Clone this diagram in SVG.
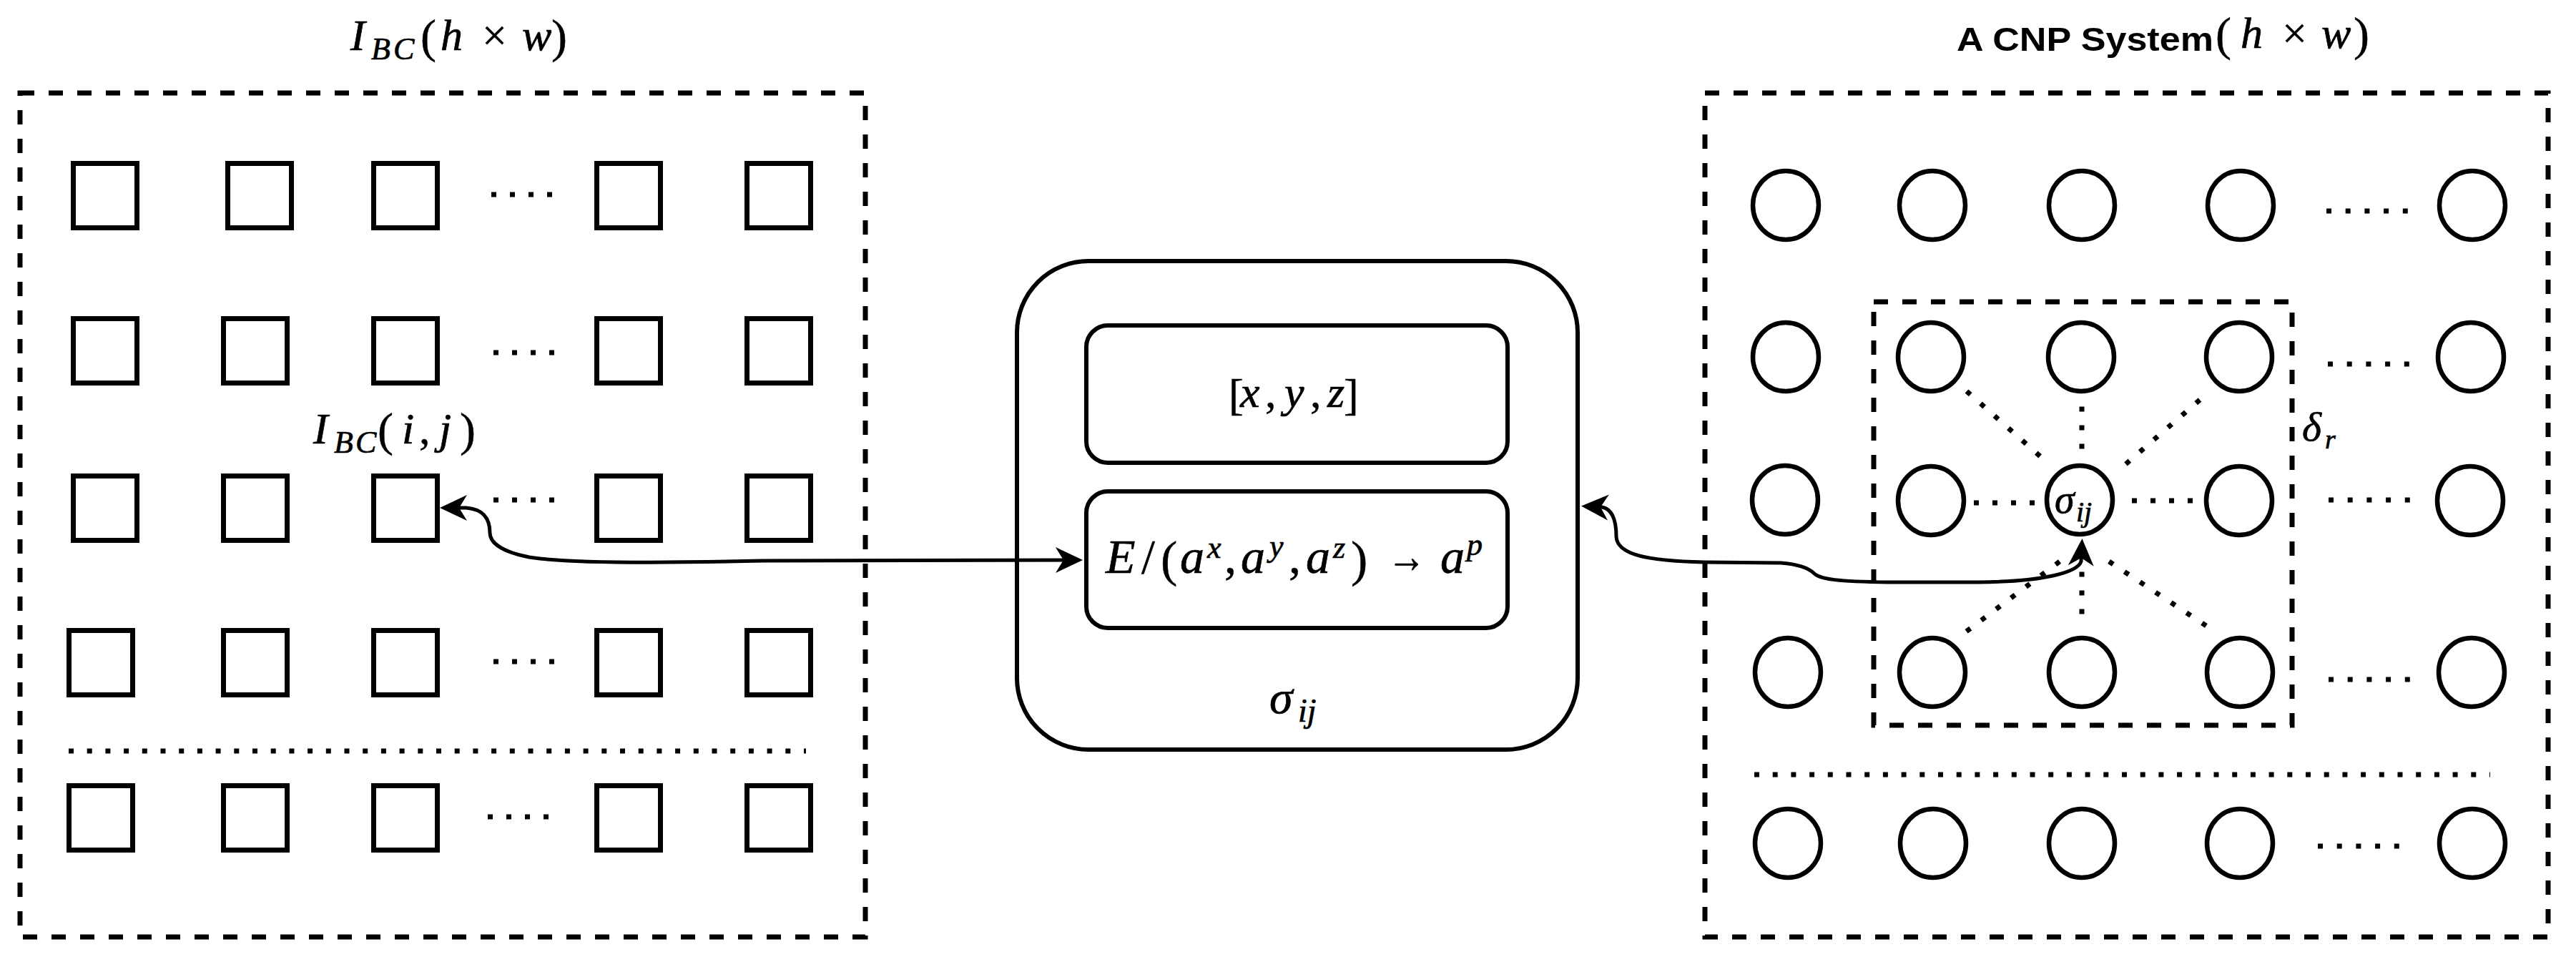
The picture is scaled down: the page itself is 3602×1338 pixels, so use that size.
<svg xmlns="http://www.w3.org/2000/svg" width="3602" height="1338" viewBox="0 0 3602 1338">
<defs>
<style>
.dbox{fill:none;stroke:#000;stroke-width:7;stroke-dasharray:20 20}
.sq{fill:#fff;stroke:#000;stroke-width:7}
.ci{fill:#fff;stroke:#000;stroke-width:6.5}
.rb{fill:#fff;stroke:#000;stroke-width:6}
.dot{stroke:#000;stroke-width:7;stroke-dasharray:7 19;fill:none}
.dotl{stroke:#000;stroke-width:7;stroke-dasharray:7 18.7;fill:none}
.dot5{stroke:#000;stroke-width:7;stroke-dasharray:7 19.7;fill:none}
.con{fill:none;stroke:#000;stroke-width:5}
.mi{font-family:"Liberation Serif","Times New Roman",serif;font-style:italic;fill:#000;stroke:#000;stroke-width:0.7}
.mr{font-family:"Liberation Serif","Times New Roman",serif;font-style:normal;fill:#000;stroke:#000;stroke-width:0.5}
.bs{font-family:"Liberation Sans",Arial,sans-serif;font-weight:bold;fill:#000}
</style>
<marker id="arr" viewBox="0 0 40 40" refX="28" refY="20" markerWidth="40" markerHeight="40" markerUnits="userSpaceOnUse" orient="auto-start-reverse">
<path d="M38,20 L0,2 L11,20 L0,38 Z" fill="#000"/>
</marker>
</defs>
<rect width="3602" height="1338" fill="#fff"/>

<!-- Left panel -->
<g id="ibc-panel">
<rect class="dbox" x="28" y="130" width="1182" height="1180"/>
<text font-size="62" y="70"><tspan class="mi" x="490">I</tspan><tspan class="mi" x="519" y="83" font-size="44">B</tspan><tspan class="mi" x="550" y="83" font-size="44">C</tspan><tspan class="mr" x="588" y="73" font-size="66">(</tspan><tspan class="mi" x="616" y="70">h</tspan><tspan class="mr" x="674" y="70">×</tspan><tspan class="mi" x="730" y="70">w</tspan><tspan class="mr" x="771" y="73" font-size="66">)</tspan></text>
</g>

<g id="ibc-ij-label">
<text font-size="62" y="620"><tspan class="mi" x="438">I</tspan><tspan class="mi" x="467" y="633" font-size="44">B</tspan><tspan class="mi" x="497" y="633" font-size="44">C</tspan><tspan class="mr" x="528" y="623" font-size="66">(</tspan><tspan class="mi" x="562" y="620">i</tspan><tspan class="mr" x="586" y="620">,</tspan><tspan class="mi" x="614" y="620">j</tspan><tspan class="mr" x="643" y="623" font-size="66">)</tspan></text>
</g>

<g id="sq-r1c1"><rect class="sq" x="102.5" y="228.5" width="89" height="90"/></g>
<g id="sq-r1c2"><rect class="sq" x="318.5" y="228.5" width="89" height="90"/></g>
<g id="sq-r1c3"><rect class="sq" x="522.5" y="228.5" width="89" height="90"/></g>
<g id="sq-r1c4"><rect class="sq" x="834.5" y="228.5" width="89" height="90"/></g>
<g id="sq-r1c5"><rect class="sq" x="1044.5" y="228.5" width="89" height="90"/></g>

<g id="sq-r2c1"><rect class="sq" x="102.5" y="445.5" width="89" height="90"/></g>
<g id="sq-r2c2"><rect class="sq" x="312.5" y="445.5" width="89" height="90"/></g>
<g id="sq-r2c3"><rect class="sq" x="522.5" y="445.5" width="89" height="90"/></g>
<g id="sq-r2c4"><rect class="sq" x="834.5" y="445.5" width="89" height="90"/></g>
<g id="sq-r2c5"><rect class="sq" x="1044.5" y="445.5" width="89" height="90"/></g>

<g id="sq-r3c1"><rect class="sq" x="102.5" y="665.5" width="89" height="90"/></g>
<g id="sq-r3c2"><rect class="sq" x="312.5" y="665.5" width="89" height="90"/></g>
<g id="sq-r3c3"><rect class="sq" x="522.5" y="665.5" width="89" height="90"/></g>
<g id="sq-r3c4"><rect class="sq" x="834.5" y="665.5" width="89" height="90"/></g>
<g id="sq-r3c5"><rect class="sq" x="1044.5" y="665.5" width="89" height="90"/></g>

<g id="sq-r4c1"><rect class="sq" x="96.5" y="881.5" width="89" height="90"/></g>
<g id="sq-r4c2"><rect class="sq" x="312.5" y="881.5" width="89" height="90"/></g>
<g id="sq-r4c3"><rect class="sq" x="522.5" y="881.5" width="89" height="90"/></g>
<g id="sq-r4c4"><rect class="sq" x="834.5" y="881.5" width="89" height="90"/></g>
<g id="sq-r4c5"><rect class="sq" x="1044.5" y="881.5" width="89" height="90"/></g>

<g id="sq-r5c1"><rect class="sq" x="96.5" y="1098.5" width="89" height="90"/></g>
<g id="sq-r5c2"><rect class="sq" x="312.5" y="1098.5" width="89" height="90"/></g>
<g id="sq-r5c3"><rect class="sq" x="522.5" y="1098.5" width="89" height="90"/></g>
<g id="sq-r5c4"><rect class="sq" x="834.5" y="1098.5" width="89" height="90"/></g>
<g id="sq-r5c5"><rect class="sq" x="1044.5" y="1098.5" width="89" height="90"/></g>

<g id="left-ellipses">
<line class="dot" x1="687" y1="272" x2="774" y2="272"/>
<line class="dot" x1="690" y1="493" x2="777" y2="493"/>
<line class="dot" x1="690" y1="699" x2="777" y2="699"/>
<line class="dot" x1="690" y1="925" x2="777" y2="925"/>
<line class="dot" x1="682" y1="1142" x2="769" y2="1142"/>
<line class="dotl" x1="96" y1="1050" x2="1127" y2="1050"/>
</g>

<!-- Center neuron -->
<g id="sigma-node">
<rect class="rb" x="1422" y="365" width="784" height="683" rx="100" ry="100"/>
<text class="mi" x="1775" y="997" font-size="66">σ<tspan x="1815" y="1009" font-size="46">ij</tspan></text>
</g>
<g id="state-box">
<rect class="rb" x="1519" y="455" width="589" height="192" rx="30" ry="30"/>
<text font-size="62" y="569"><tspan class="mr" x="1718" y="573">[</tspan><tspan class="mi" x="1734" y="569">x</tspan><tspan class="mr" x="1769">,</tspan><tspan class="mi" x="1796">y</tspan><tspan class="mr" x="1832">,</tspan><tspan class="mi" x="1856">z</tspan><tspan class="mr" x="1879" y="573">]</tspan></text>
</g>
<g id="rule-box">
<rect class="rb" x="1519" y="687" width="589" height="191" rx="30" ry="30"/>
<text font-size="68" y="801"><tspan class="mi" x="1546">E</tspan><tspan class="mr" x="1596">/</tspan><tspan class="mr" x="1623" y="805" font-size="70">(</tspan><tspan class="mi" x="1650" y="801">a</tspan><tspan class="mi" x="1688" y="780" font-size="44">x</tspan><tspan class="mr" x="1712" y="801">,</tspan><tspan class="mi" x="1735">a</tspan><tspan class="mi" x="1775" y="778" font-size="44">y</tspan><tspan class="mr" x="1802" y="801">,</tspan><tspan class="mi" x="1826">a</tspan><tspan class="mi" x="1864" y="780" font-size="44">z</tspan><tspan class="mr" x="1889" y="805" font-size="70">)</tspan></text>
<text class="mr" x="1940" y="800" font-size="66" textLength="54" lengthAdjust="spacingAndGlyphs">→</text>
<text font-size="68" y="801"><tspan class="mi" x="2014">a</tspan><tspan class="mi" x="2051" y="776" font-size="44">p</tspan></text>
</g>

<!-- Right panel -->
<g id="cnp-panel">
<rect class="dbox" x="2384" y="130" width="1179" height="1180"/>
<text class="bs" x="2736" y="71" font-size="46" textLength="359" lengthAdjust="spacingAndGlyphs">A CNP System</text>
<text font-size="62" y="67"><tspan class="mr" x="3098" y="70" font-size="66">(</tspan><tspan class="mi" x="3133" y="67">h</tspan><tspan class="mr" x="3191">×</tspan><tspan class="mi" x="3246">w</tspan><tspan class="mr" x="3291" y="70" font-size="66">)</tspan></text>
</g>
<g id="neighbourhood">
<rect class="dbox" x="2620" y="422" width="585" height="592"/>
<text class="mi" x="3219" y="616" font-size="58">δ<tspan x="3251" y="627" font-size="38">r</tspan></text>
</g>

<g id="neighbour-links">
<line class="dot" x1="2760" y1="703" x2="2847" y2="703"/>
<line class="dot" x1="2981" y1="700" x2="3068" y2="700"/>
<line class="dot" x1="2911" y1="568.5" x2="2911" y2="628"/>
<line class="dot" x1="2911" y1="799.5" x2="2911" y2="859"/>
<line class="dot" x1="2750" y1="547" x2="2855" y2="640"/>
<line class="dot" x1="3076" y1="559" x2="2970" y2="651"/>
<line class="dot" x1="2880" y1="785" x2="2748" y2="884"/>
<line class="dot" x1="2949" y1="785" x2="3085" y2="875"/>
</g>

<g id="ci-r1c1"><ellipse class="ci" cx="2497" cy="287" rx="46" ry="48"/></g>
<g id="ci-r1c2"><ellipse class="ci" cx="2702" cy="287" rx="46" ry="48"/></g>
<g id="ci-r1c3"><ellipse class="ci" cx="2911" cy="287" rx="46" ry="48"/></g>
<g id="ci-r1c4"><ellipse class="ci" cx="3133" cy="287" rx="46" ry="48"/></g>
<g id="ci-r1c5"><ellipse class="ci" cx="3457" cy="287" rx="46" ry="48"/></g>

<g id="ci-r2c1"><ellipse class="ci" cx="2497" cy="499" rx="46" ry="48"/></g>
<g id="ci-r2c2"><ellipse class="ci" cx="2700" cy="499" rx="46" ry="48"/></g>
<g id="ci-r2c3"><ellipse class="ci" cx="2910" cy="499" rx="46" ry="48"/></g>
<g id="ci-r2c4"><ellipse class="ci" cx="3131" cy="499" rx="46" ry="48"/></g>
<g id="ci-r2c5"><ellipse class="ci" cx="3455" cy="499" rx="46" ry="48"/></g>

<g id="ci-r3c1"><ellipse class="ci" cx="2496" cy="699" rx="46" ry="48"/></g>
<g id="ci-r3c2"><ellipse class="ci" cx="2700" cy="700" rx="46" ry="48"/></g>
<g id="ci-r3c3"><ellipse class="ci" cx="2908" cy="699" rx="46" ry="48"/>
<text class="mi" x="2873" y="717" font-size="56">σ<tspan x="2903" y="729" font-size="40">ij</tspan></text></g>
<g id="ci-r3c4"><ellipse class="ci" cx="3131" cy="700" rx="46" ry="48"/></g>
<g id="ci-r3c5"><ellipse class="ci" cx="3454" cy="700" rx="46" ry="48"/></g>

<g id="ci-r4c1"><ellipse class="ci" cx="2500" cy="940" rx="46" ry="48"/></g>
<g id="ci-r4c2"><ellipse class="ci" cx="2702" cy="940" rx="46" ry="48"/></g>
<g id="ci-r4c3"><ellipse class="ci" cx="2911" cy="940" rx="46" ry="48"/></g>
<g id="ci-r4c4"><ellipse class="ci" cx="3132" cy="940" rx="46" ry="48"/></g>
<g id="ci-r4c5"><ellipse class="ci" cx="3456" cy="940" rx="46" ry="48"/></g>

<g id="ci-r5c1"><ellipse class="ci" cx="2500" cy="1179" rx="46" ry="48"/></g>
<g id="ci-r5c2"><ellipse class="ci" cx="2703" cy="1179" rx="46" ry="48"/></g>
<g id="ci-r5c3"><ellipse class="ci" cx="2911" cy="1179" rx="46" ry="48"/></g>
<g id="ci-r5c4"><ellipse class="ci" cx="3132" cy="1179" rx="46" ry="48"/></g>
<g id="ci-r5c5"><ellipse class="ci" cx="3457" cy="1179" rx="46" ry="48"/></g>

<g id="right-ellipses">
<line class="dot5" x1="3253" y1="295" x2="3367" y2="295"/>
<line class="dot5" x1="3255" y1="509" x2="3369" y2="509"/>
<line class="dot5" x1="3256" y1="699" x2="3370" y2="699"/>
<line class="dot5" x1="3256" y1="950" x2="3370" y2="950"/>
<line class="dot5" x1="3241" y1="1183" x2="3355" y2="1183"/>
<line class="dotl" x1="2453" y1="1083" x2="3482" y2="1083"/>
</g>

<!-- Connectors -->
<g id="connectors">
<path class="con" marker-start="url(#arr)" marker-end="url(#arr)" d="M 1504 783 L 1067 784 C 900 788 790 787 740 779 C 700 771 685 758 685 745 C 685 725 676 712 652 710 L 625 710"/>
<path class="con" marker-start="url(#arr)" marker-end="url(#arr)" d="M 2221 708 L 2240 709 C 2256 712 2260 730 2260 750 C 2261 775 2300 784 2383 786 L 2490 787 C 2518 789 2530 795 2537 802 C 2545 810 2570 813 2640 814 L 2767 814 C 2860 813 2905 800 2910 785 L 2911 763"/>
</g>
</svg>
